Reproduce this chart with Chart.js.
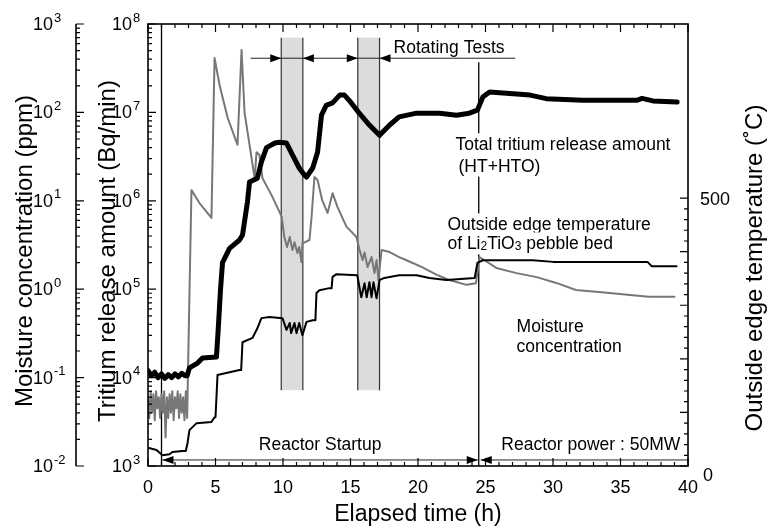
<!DOCTYPE html>
<html>
<head>
<meta charset="utf-8">
<script src="https://cdn.jsdelivr.net/npm/chart.js@4.4.0/dist/chart.umd.min.js"></script>
<style>
html, body { margin: 0; padding: 0; background: #fff; }
</style>
</head>
<body>
<canvas id="reactorChart" width="768" height="526"></canvas>
<script>
// Total tritium release (Bq/min) vs elapsed time (h)
const tritiumTime = [0, 0.25, 0.5, 0.75, 1, 1.25, 1.5, 1.75, 2, 2.25, 2.5, 2.75, 2.9, 3.07, 3.67, 4.04, 5.07, 5.2, 5.37, 5.52, 6.04, 6.78, 7.0, 7.37, 7.52, 8.1, 8.4, 8.78, 9.4, 9.74, 10.26, 10.7, 11.2, 11.6, 11.74, 12.2, 12.56, 12.85, 13.2, 13.67, 14.2, 14.55, 14.9, 15.6, 16.4, 17.15, 17.9, 18.6, 19.9, 21.6, 22.85, 23.8, 24.4, 24.8, 25.3, 26.3, 28.3, 29.5, 32.2, 36.2, 36.6, 37.4, 39.2];
const tritium = [1.2e4, 1.05e4, 1.15e4, 1.0e4, 1.1e4, 0.98e4, 1.08e4, 1.0e4, 1.1e4, 1.02e4, 1.12e4, 1.05e4, 1.05e4, 1.29e4, 1.46e4, 1.67e4, 1.71e4, 3.5e4, 9.8e4, 2.0e5, 2.9e5, 3.6e5, 4.1e5, 9.8e5, 1.63e6, 1.8e6, 2.75e6, 4.0e6, 4.5e6, 4.6e6, 4.5e6, 3.3e6, 2.35e6, 1.95e6, 1.86e6, 2.35e6, 3.55e6, 9.3e6, 1.2e7, 1.28e7, 1.57e7, 1.57e7, 1.37e7, 1.0e7, 7.2e6, 5.5e6, 7.2e6, 8.9e6, 9.8e6, 9.8e6, 9.3e6, 9.8e6, 1.06e7, 1.49e7, 1.70e7, 1.66e7, 1.57e7, 1.43e7, 1.37e7, 1.37e7, 1.44e7, 1.35e7, 1.31e7];

// Moisture concentration (ppm)
const moistureTime = [0, 0.1, 0.2, 0.3, 0.4, 0.5, 0.6, 0.7, 0.8, 0.9, 1.0, 1.1, 1.2, 1.3, 1.4, 1.5, 1.6, 1.7, 1.8, 1.9, 2.0, 2.1, 2.2, 2.3, 2.4, 2.5, 2.6, 2.7, 2.8, 2.9, 3.05, 3.22, 3.8, 4.7, 4.93, 5.3, 5.9, 6.63, 6.93, 7.15, 7.52, 7.9, 8.04, 8.26, 8.48, 9.15, 9.74, 9.9, 10.1, 10.3, 10.5, 10.7, 10.85, 11.07, 11.2, 11.37, 11.44, 11.96, 12.1, 12.33, 12.56, 12.9, 13.3, 13.67, 14.04, 14.7, 15.44, 15.67, 15.9, 16.04, 16.26, 16.56, 16.78, 16.93, 17.07, 17.3, 17.9, 18.6, 19.1, 20.3, 21.4, 22.3, 23.6, 24.3, 24.55, 24.9, 25.8, 27.3, 28.8, 30.3, 31.7, 34.0, 35.7, 37.1, 39.0];
const moisture = [0.06, 0.035, 0.07, 0.04, 0.065, 0.033, 0.07, 0.045, 0.06, 0.035, 0.065, 0.04, 0.07, 0.021, 0.06, 0.035, 0.065, 0.04, 0.07, 0.033, 0.06, 0.045, 0.07, 0.035, 0.065, 0.04, 0.06, 0.033, 0.07, 0.035, 0.6, 13.2, 9.5, 6.4, 412, 204, 87, 43, 508, 100, 43, 18, 35.5, 33, 18, 11.6, 7.5, 6.6, 3.9, 3.0, 3.9, 2.77, 3.4, 2.57, 3.0, 2.03, 3.3, 3.6, 6.1, 18.6, 17.2, 10.2, 7.3, 12.2, 8.5, 5.1, 3.9, 2.77, 2.14, 2.6, 1.78, 2.31, 1.52, 2.14, 1.27, 2.77, 2.63, 2.31, 2.14, 1.78, 1.45, 1.27, 1.12, 1.17, 2.31, 2.14, 1.74, 1.52, 1.37, 1.17, 0.98, 0.91, 0.86, 0.82, 0.82];

// Outside edge temperature of the pebble bed (deg C)
const temperatureTime = [0, 0.63, 1.07, 1.6, 1.8, 2.55, 2.8, 2.93, 3.07, 3.6, 4.7, 4.93, 5.0, 5.15, 6.04, 6.78, 6.9, 7.0, 7.74, 8.1, 8.4, 9.0, 9.96, 10.26, 10.5, 10.6, 10.85, 11.0, 11.2, 11.44, 11.74, 12.2, 12.4, 12.48, 12.7, 13.44, 13.6, 13.67, 13.96, 15.5, 15.8, 16.04, 16.2, 16.4, 16.56, 16.7, 16.93, 17.15, 17.5, 18.6, 19.9, 20.85, 22.1, 24.2, 24.4, 24.8, 28.5, 30.0, 34.2, 37.0, 37.3, 39.15];
const temperature = [34, 30, 20, 22, 26, 28, 28, 43, 67, 80, 82, 91, 91, 170, 175, 179, 179, 231, 239, 257, 276, 278, 276, 254, 267, 248, 267, 248, 267, 244, 269, 272, 272, 323, 328, 332, 332, 353, 358, 356, 315, 341, 315, 343, 315, 343, 313, 347, 351, 356, 356, 351, 347, 351, 379, 384, 384, 381, 381, 381, 373, 373];

// rotating test windows (h) and phase markers
const rotStart = [9.87, 15.54];
const rotEnd = [11.47, 17.15];
const startupTime = 1;
const fullPowerTime = 24.5;

// axis labels
const xLabels = [0, 5, 10, 15, 20, 25, 30, 35, 40];
const tritiumDecades = [3, 4, 5, 6, 7, 8];
const moistureDecades = [-2, -1, 0, 1, 2, 3];
const tempLabels = [0, 500];

const FONT = '"Liberation Sans", Arial, Helvetica, sans-serif';

function toPoints(xs, ys) {
    return xs.map((x, i) => ({ x: x, y: ys[i] }));
}

function arrowHead(ctx, x, y, dir) {
    ctx.beginPath();
    ctx.moveTo(x, y);
    ctx.lineTo(x - dir * 11, y - 4);
    ctx.lineTo(x - dir * 11, y + 4);
    ctx.closePath();
    ctx.fill();
}

function boxedText(ctx, parts, x, y) {
    // parts: [text, isSubscript]
    let w = 0;
    parts.forEach(p => {
        ctx.font = (p[1] ? '12px ' : '17.5px ') + FONT;
        w += ctx.measureText(p[0]).width;
    });
    ctx.fillStyle = '#fff';
    ctx.fillRect(x - 2, y - 11, w + 4, 22);
    ctx.fillStyle = '#000';
    ctx.textAlign = 'left';
    ctx.textBaseline = 'alphabetic';
    let cx = x;
    parts.forEach(p => {
        ctx.font = (p[1] ? '12px ' : '17.5px ') + FONT;
        ctx.fillText(p[0], cx, y + 6 + (p[1] ? 1 : 0));
        cx += ctx.measureText(p[0]).width;
    });
}

function powLabel(ctx, x, y, exp) {
    ctx.textAlign = 'left';
    ctx.textBaseline = 'middle';
    ctx.font = '18px ' + FONT;
    ctx.fillText('10', x, y + 1);
    const w = ctx.measureText('10').width;
    ctx.font = '13px ' + FONT;
    ctx.fillText(String(exp), x + w + 1, y - 6);
}

function vText(ctx, str, x, y) {
    ctx.save();
    ctx.translate(x, y);
    ctx.rotate(-Math.PI / 2);
    ctx.textAlign = 'center';
    ctx.textBaseline = 'alphabetic';
    ctx.fillText(str, 0, 0);
    ctx.restore();
}

const decorPlugin = {
    id: 'decor',
    beforeDatasetsDraw(chart) {
        const { ctx, chartArea: a, scales } = chart;
        const sx = scales.x, sT = scales.yT;
        ctx.save();
        // rotating test bands
        const bandTop = sT.getPixelForValue(7e7);
        const bandBottom = sT.getPixelForValue(7.2e3);
        ctx.lineWidth = 1.2;
        ctx.strokeStyle = '#333';
        rotStart.forEach((t, i) => {
            const x1 = sx.getPixelForValue(t), x2 = sx.getPixelForValue(rotEnd[i]);
            ctx.fillStyle = '#dcdcdc';
            ctx.fillRect(x1, bandTop, x2 - x1, bandBottom - bandTop);
            ctx.beginPath();
            ctx.moveTo(x1, bandTop); ctx.lineTo(x1, bandBottom);
            ctx.moveTo(x2, bandTop); ctx.lineTo(x2, bandBottom);
            ctx.stroke();
        });

        // phase marker lines
        const xs = sx.getPixelForValue(startupTime);
        const xp = sx.getPixelForValue(fullPowerTime);
        const rotY = sT.getPixelForValue(4.1e7);
        ctx.strokeStyle = '#000';
        ctx.lineWidth = 1.3;
        ctx.beginPath();
        ctx.moveTo(xs, a.top); ctx.lineTo(xs, a.bottom);
        ctx.moveTo(xp, rotY + 4); ctx.lineTo(xp, a.bottom);
        ctx.stroke();

        // rotating tests arrow
        ctx.lineWidth = 1;
        ctx.strokeStyle = '#222';
        ctx.fillStyle = '#000';
        ctx.beginPath();
        ctx.moveTo(sx.getPixelForValue(7.6), rotY);
        ctx.lineTo(sx.getPixelForValue(27.2), rotY);
        ctx.stroke();
        rotStart.forEach((t, i) => {
            arrowHead(ctx, sx.getPixelForValue(t), rotY, 1);
            arrowHead(ctx, sx.getPixelForValue(rotEnd[i]), rotY, -1);
        });
        ctx.font = '17.5px ' + FONT;
        ctx.textAlign = 'center';
        ctx.textBaseline = 'alphabetic';
        ctx.fillText('Rotating Tests', sx.getPixelForValue(22.3), rotY - 5);

        // reactor phase arrows
        const phaseY = sT.getPixelForValue(1.17e3);
        ctx.beginPath();
        ctx.moveTo(xs, phaseY); ctx.lineTo(xp - 1, phaseY);
        ctx.moveTo(xp + 2, phaseY); ctx.lineTo(a.right, phaseY);
        ctx.stroke();
        arrowHead(ctx, xs + 1, phaseY, -1);
        arrowHead(ctx, xp - 1, phaseY, 1);
        arrowHead(ctx, xp + 2, phaseY, -1);
        ctx.fillText('Reactor Startup', sx.getPixelForValue(12.75), phaseY - 10);
        ctx.fillText('Reactor power : 50MW', sx.getPixelForValue(32.8), phaseY - 10);

        // series labels
        boxedText(ctx, [['Total tritium release amount', 0]], sx.getPixelForValue(22.78), sT.getPixelForValue(4.35e6));
        boxedText(ctx, [['(HT+HTO)', 0]], sx.getPixelForValue(23.0), sT.getPixelForValue(2.5e6));
        boxedText(ctx, [['Outside edge temperature', 0]], sx.getPixelForValue(22.18), sT.getPixelForValue(5.4e5));
        boxedText(ctx, [['of Li', 0], ['2', 1], ['TiO', 0], ['3', 1], [' pebble bed', 0]], sx.getPixelForValue(22.18), sT.getPixelForValue(3.3e5));
        boxedText(ctx, [['Moisture', 0]], sx.getPixelForValue(27.3), sT.getPixelForValue(3.8e4));
        boxedText(ctx, [['concentration', 0]], sx.getPixelForValue(27.3), sT.getPixelForValue(2.3e4));
        ctx.restore();
    },
    afterDraw(chart) {
        const { ctx, chartArea: a, scales } = chart;
        const sx = scales.x, sT = scales.yT, sM = scales.yM, sC = scales.yC;
        const outerX = 76;
        ctx.save();
        ctx.strokeStyle = '#000';
        ctx.fillStyle = '#000';
        ctx.lineWidth = 1.6;
        ctx.strokeRect(a.left, a.top, a.right - a.left, a.bottom - a.top);
        ctx.beginPath();
        ctx.moveTo(outerX, sM.getPixelForValue(1e3));
        ctx.lineTo(outerX, sM.getPixelForValue(1e-2));
        ctx.stroke();

        // tick marks
        ctx.lineWidth = 1.2;
        ctx.beginPath();
        for (let t = 0; t <= 40; t++) {
            const x = sx.getPixelForValue(t);
            const len = t % 5 === 0 ? 8 : 4;
            ctx.moveTo(x, a.bottom); ctx.lineTo(x, a.bottom - len);
            ctx.moveTo(x, a.top); ctx.lineTo(x, a.top + len);
        }
        const logTicks = (scale, x0, decades) => {
            decades.forEach((d, i) => {
                const base = Math.pow(10, d);
                const y = scale.getPixelForValue(base);
                ctx.moveTo(x0, y); ctx.lineTo(x0 + 8, y);
                if (i < decades.length - 1) {
                    for (let k = 2; k <= 9; k++) {
                        const yk = scale.getPixelForValue(k * base);
                        ctx.moveTo(x0, yk); ctx.lineTo(x0 + 4, yk);
                    }
                }
            });
        };
        logTicks(sT, a.left, tritiumDecades);
        logTicks(sM, outerX, moistureDecades);
        for (let c = 0; c <= 500; c += 20) {
            const y = sC.getPixelForValue(c);
            const len = c % 100 === 0 ? 8 : 4;
            ctx.moveTo(a.right, y); ctx.lineTo(a.right - len, y);
        }
        ctx.stroke();

        // tick labels
        ctx.font = '18px ' + FONT;
        ctx.textAlign = 'center';
        ctx.textBaseline = 'middle';
        xLabels.forEach(t => ctx.fillText(String(t), sx.getPixelForValue(t), a.bottom + 22));
        tritiumDecades.forEach(d => powLabel(ctx, a.left - 36, sT.getPixelForValue(Math.pow(10, d)), d));
        moistureDecades.forEach(d => powLabel(ctx, outerX - 43, sM.getPixelForValue(Math.pow(10, d)), d));
        ctx.font = '18px ' + FONT;
        ctx.textAlign = 'left';
        ctx.textBaseline = 'middle';
        ctx.fillText(String(tempLabels[1]), a.right + 12, sC.getPixelForValue(tempLabels[1]) + 2);
        ctx.fillText(String(tempLabels[0]), a.right + 15, sC.getPixelForValue(tempLabels[0]) + 10);

        // axis titles
        ctx.font = '24px ' + FONT;
        vText(ctx, 'Moisture concentration (ppm)', 32, 251);
        vText(ctx, 'Tritium release amount (Bq/min)', 115, 251);
        vText(ctx, 'Outside edge temperature (\u02DAC)', 762, 268);
        ctx.font = '23px ' + FONT;
        ctx.textAlign = 'center';
        ctx.textBaseline = 'alphabetic';
        ctx.fillText('Elapsed time (h)', (a.left + a.right) / 2, 521);
        ctx.restore();
    }
};

new Chart(document.getElementById('reactorChart'), {
    type: 'line',
    data: {
        datasets: [{
            label: 'Total tritium release amount',
            data: toPoints(tritiumTime, tritium),
            yAxisID: 'yT',
            borderColor: '#000',
            borderWidth: 5,
            order: 0
        }, {
            label: 'Outside edge temperature',
            data: toPoints(temperatureTime, temperature),
            yAxisID: 'yC',
            borderColor: '#000',
            borderWidth: 2,
            order: 1
        }, {
            label: 'Moisture concentration',
            data: toPoints(moistureTime, moisture),
            yAxisID: 'yM',
            borderColor: '#777',
            borderWidth: 2,
            order: 2
        }]
    },
    options: {
        responsive: false,
        animation: false,
        events: [],
        layout: { padding: { left: 148, right: 80, top: 24, bottom: 60 } },
        elements: {
            point: { radius: 0 },
            line: { tension: 0, borderJoinStyle: 'round', borderCapStyle: 'round' }
        },
        plugins: { legend: { display: false }, tooltip: { enabled: false } },
        scales: {
            x: { type: 'linear', min: 0, max: 40, display: false },
            yT: { type: 'logarithmic', min: 1e3, max: 1e8, display: false },
            yM: { type: 'logarithmic', min: 1e-2, max: 1e3, display: false },
            yC: { type: 'linear', min: 0, max: 825, display: false }
        }
    },
    plugins: [decorPlugin]
});
</script>
</body>
</html>
